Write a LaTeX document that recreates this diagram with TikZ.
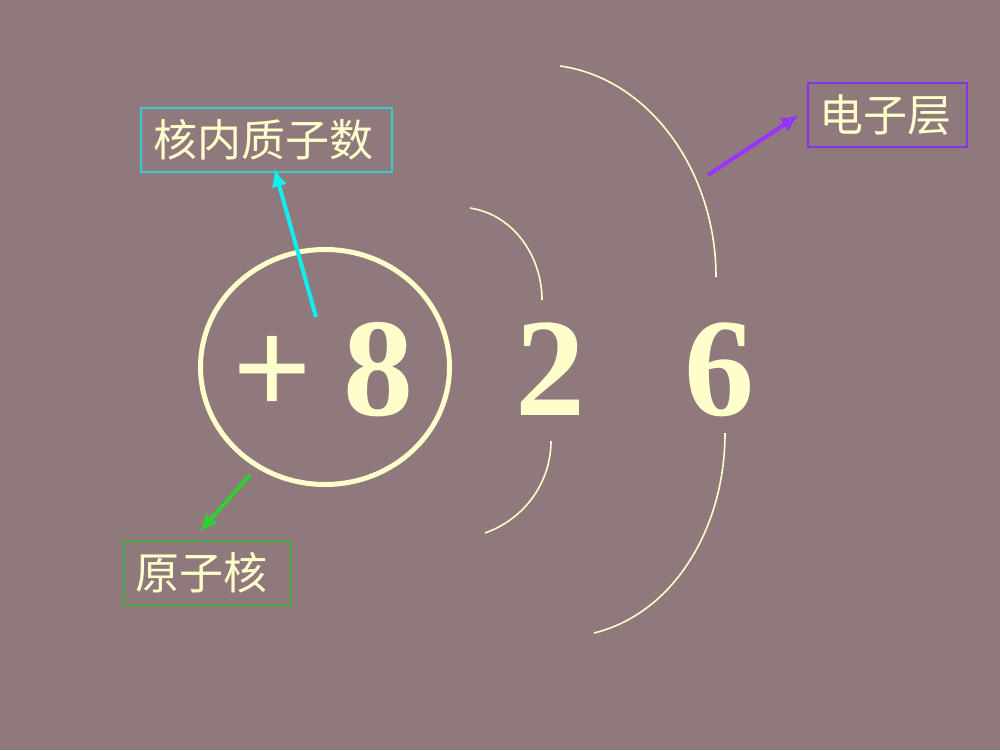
\documentclass[tikz,border=0pt]{standalone}
\usepackage{fontspec}
\setmainfont{Liberation Serif}
\newfontfamily\cjk{Noto Sans CJK SC}
\usetikzlibrary{shapes.geometric,arrows.meta}
\definecolor{bg}{HTML}{8F797C}
\definecolor{cream}{HTML}{FFFFCC}
\definecolor{cyanA}{HTML}{11EEEE}
\definecolor{cyanB}{HTML}{33CCCC}
\definecolor{purA}{HTML}{9933FF}
\definecolor{purB}{HTML}{8833EE}
\definecolor{grnA}{HTML}{33CC33}
\definecolor{grnB}{HTML}{44AA44}
\tikzset{
  big/.style={text=cream,font=\fontsize{70}{70}\selectfont\bfseries,inner sep=0pt,anchor=base},
  lbl/.style={text=cream,font=\cjk\fontsize{22}{22}\selectfont,draw,line width=1pt,inner sep=0pt,minimum height=32pt},
  shell/.style={draw=cream,line width=0.8pt},
  ptr/.style={line width=2pt,-{Latex[length=9pt,width=8pt]}}
}
\begin{document}
\begin{tikzpicture}[x=0.5pt,y=-0.5pt]
\fill[bg] (0,0) rectangle (1000,750);
\useasboundingbox (0,0) rectangle (1000,750);
% nucleus
\node[ellipse,draw=cream,line width=2.5pt,inner sep=0pt,minimum width=124.5pt,minimum height=117.5pt] (nucleus) at (325,367) {};
\node[big] (plus) at (272,415) {+};
\node[big] (eight) at (378,415) {8};
\node[big] (two) at (550,415) {2};
\node[big] (six) at (719,415) {6};
% shells
\draw[shell] (470,208) .. controls (515,215) and (542,258) .. (542,300);
\draw[shell] (551,441) .. controls (551,480) and (527,518) .. (485,533);
\draw[shell] (560,66) .. controls (648,78) and (716,170) .. (716,277);
\draw[shell] (725,433) .. controls (725,530) and (672,614) .. (594,633);
% labels
\node[lbl,draw=cyanB,minimum width=125.5pt] (kbox) at (266.5,139.5) {核内质子数\kern3pt};
\node[lbl,draw=purB,minimum width=79.5pt] (ebox) at (887.5,115) {电子层\kern2pt};
\node[lbl,draw=grnB,minimum width=83.5pt] (ybox) at (207.5,573) {原子核\kern6pt};
% arrows
\coordinate (cs) at (316,317);
\coordinate (ps) at (708,175);
\coordinate (gs) at (250,475);
\draw[ptr,cyanA] (cs) -- ([xshift=4pt,yshift=2pt]kbox.south);
\draw[ptr,purA] (ps) -- ([xshift=-4pt]ebox.west);
\draw[ptr,grnA] (gs) -- ([xshift=-4pt,yshift=4pt]ybox.north);
\end{tikzpicture}
\end{document}
